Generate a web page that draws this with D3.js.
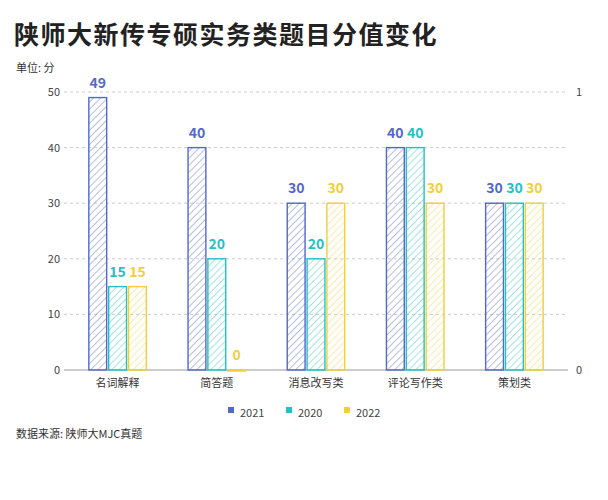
<!DOCTYPE html>
<html><head><meta charset="utf-8">
<script src="https://cdn.jsdelivr.net/npm/d3@7"></script>
<style>body{margin:0;background:#fff;font-family:"Noto Sans CJK SC",sans-serif;}</style>
</head><body><svg id="c" width="608" height="500"></svg>
<script>
var categories = ['名词解释','简答题','消息改写类','评论写作类','策划类'];
var seriesNames = ['2021','2020','2022'];
var v2021 = [49,40,30,40,30];
var v2020 = [15,20,20,40,30];
var v2022 = [15,0,30,30,30];
var yTicks = [0,10,20,30,40,50];
var colors = ['#5468c8','#24c0c4','#f0cf3a'];

var svg = d3.select('#c');
var margin = {left:68, right:44, top:92, bottom:130};
var W = 608, H = 500;
var x = d3.scaleBand().domain(categories).range([margin.left, W-margin.right]).paddingInner(0.4).paddingOuter(0.2);
var xs = d3.scaleBand().domain(seriesNames).range([0, x.bandwidth()]);
var y = d3.scaleLinear().domain([0,50]).range([H-margin.bottom, margin.top]);

var defs = svg.append('defs');
colors.forEach(function(c,i){
  var p = defs.append('pattern').attr('id','h'+i).attr('patternUnits','userSpaceOnUse')
    .attr('width',5).attr('height',5).attr('patternTransform','rotate(45)');
  p.append('line').attr('x1',0).attr('y1',0).attr('x2',0).attr('y2',5)
    .attr('stroke',c).attr('stroke-width',1.1).attr('opacity',0.8);
});

svg.append('text').text('陕师大新传专硕实务类题目分值变化').attr('x',14).attr('y',44)
  .attr('font-size',25).attr('font-weight',700).attr('fill','#222').attr('letter-spacing',1.5);
svg.append('text').text('单位: 分').attr('x',16).attr('y',72).attr('font-size',11).attr('fill','#333');

svg.selectAll('.grid').data(yTicks).enter().append('line')
  .attr('x1',margin.left-4).attr('x2',W-margin.right+4)
  .attr('y1',function(d){return y(d);}).attr('y2',function(d){return y(d);})
  .attr('stroke',function(d){return d===0?'#999':'#ccc';}).attr('stroke-dasharray',function(d){return d===0?null:'3,3';});
svg.selectAll('.yl').data(yTicks).enter().append('text')
  .attr('x',margin.left-8).attr('y',function(d){return y(d)+4;}).attr('text-anchor','end')
  .attr('font-size',11).attr('fill','#444').text(function(d){return d;});
svg.append('text').attr('x',W-margin.right+12).attr('y',y(50)+4).attr('font-size',11).attr('fill','#444').text('1');
svg.append('text').attr('x',W-margin.right+12).attr('y',y(0)+4).attr('font-size',11).attr('fill','#444').text('0');

var data = [v2021,v2020,v2022];
data.forEach(function(arr,si){
  var g = svg.append('g');
  g.selectAll('rect').data(arr).enter().append('rect')
    .attr('x',function(d,i){return x(categories[i])+xs(seriesNames[si])+1;})
    .attr('y',function(d){return y(d);})
    .attr('width',xs.bandwidth()-2)
    .attr('height',function(d){return Math.max(1,y(0)-y(d));})
    .attr('fill','url(#h'+si+')').attr('stroke',colors[si]).attr('stroke-width',1.4);
  g.selectAll('text').data(arr).enter().append('text')
    .attr('x',function(d,i){return x(categories[i])+xs(seriesNames[si])+xs.bandwidth()/2;})
    .attr('y',function(d){return y(d)-10;}).attr('text-anchor','middle')
    .attr('font-size',14).attr('font-weight',700).attr('fill',colors[si]).text(function(d){return d;});
});

svg.selectAll('.xl').data(categories).enter().append('text')
  .attr('x',function(d){return x(d)+x.bandwidth()/2;}).attr('y',y(0)+17).attr('text-anchor','middle')
  .attr('font-size',11).attr('fill','#333').text(function(d){return d;});

var lg = svg.append('g').attr('transform','translate(228,412)');
seriesNames.forEach(function(s,i){
  lg.append('rect').attr('x',i*58).attr('y',-5).attr('width',6).attr('height',6).attr('fill',colors[i]);
  lg.append('text').attr('x',i*58+12).attr('y',1).attr('dy','0.32em').attr('font-size',11).attr('fill','#444').text(s);
});
svg.append('text').text('数据来源: 陕师大MJC真题').attr('x',16).attr('y',438).attr('font-size',11).attr('fill','#333');
</script></body></html>
